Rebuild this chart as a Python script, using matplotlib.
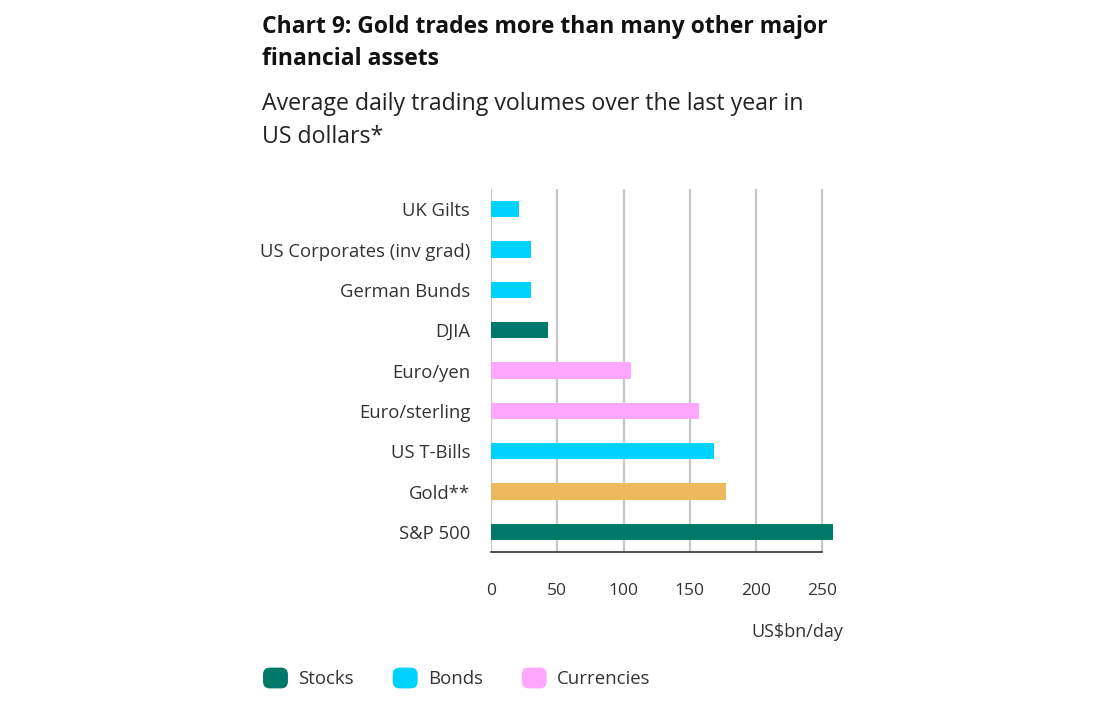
import matplotlib.pyplot as plt
from matplotlib.patches import Patch, FancyBboxPatch
from matplotlib.legend_handler import HandlerPatch

# Data (US$bn/day)
categories = ['S&P 500', 'Gold**', 'US T-Bills', 'Euro/sterling', 'Euro/yen',
              'DJIA', 'German Bunds', 'US Corporates (inv grad)', 'UK Gilts']
values = [258, 177, 168, 157, 106, 43, 30, 30, 21]
groups = ['Stocks', 'Gold', 'Bonds', 'Currencies', 'Currencies',
          'Stocks', 'Bonds', 'Bonds', 'Bonds']

group_colors = {
    'Stocks': '#00786a',
    'Bonds': '#00d2ff',
    'Currencies': '#ffa6ff',
    'Gold': '#eeb95c',
}
legend_groups = ['Stocks', 'Bonds', 'Currencies']

plt.rcParams['font.family'] = ['Open Sans', 'DejaVu Sans']


class RoundedHandler(HandlerPatch):
    def create_artists(self, legend, orig_handle, xdescent, ydescent,
                       width, height, fontsize, trans):
        p = FancyBboxPatch((-xdescent, -ydescent), width, height,
                           boxstyle='round,pad=0,rounding_size=5',
                           facecolor=orig_handle.get_facecolor(),
                           edgecolor='none', transform=trans)
        return [p]


fig = plt.figure(figsize=(11, 7.08), dpi=100)
ax = fig.add_axes([0.4464, 0.2203, 0.3131, 0.5127])

colors = [group_colors[g] for g in groups]
ax.barh(range(len(categories)), values, height=0.4, color=colors, zorder=3)

ax.set_xlim(0, 260)
ax.set_ylim(-0.5, len(categories) - 0.5)
ax.set_xticks([0, 50, 100, 150, 200, 250])
ax.set_yticks(range(len(categories)))
ax.set_yticklabels(categories)

ax.grid(axis='x', color='#c6c6c6', linewidth=1.6, zorder=0)
ax.tick_params(axis='both', length=0, colors='#333333')
ax.tick_params(axis='x', pad=22, labelsize=12.5)
ax.tick_params(axis='y', pad=15, labelsize=13.3)

for side in ['top', 'right', 'left']:
    ax.spines[side].set_visible(False)
ax.spines['bottom'].set_bounds(0, 250)
ax.spines['bottom'].set_color('#333333')
ax.spines['bottom'].set_linewidth(1.2)

# Titles
fig.text(262 / 1100, 1 - 15 / 708, 'Chart 9: Gold trades more than many other major\nfinancial assets',
         fontsize=16.5, fontweight='bold', color='#111111', va='top', ha='left',
         linespacing=1.43)
fig.text(262 / 1100, 1 - 92 / 708, 'Average daily trading volumes over the last year in\nUS dollars*',
         fontsize=16.7, color='#222222', va='top', ha='left', linespacing=1.48)

fig.text(843 / 1100, 1 - 632 / 708, 'US$bn/day', fontsize=13, color='#333333',
         ha='right', va='center')

handles = [Patch(facecolor=group_colors[g], label=g) for g in legend_groups]
fig.legend(handles=handles, handler_map={Patch: RoundedHandler()},
           loc='center left', bbox_to_anchor=(263 / 1100, 1 - 678 / 708),
           ncol=3, frameon=False, fontsize=13.4, handlelength=1.34, handleheight=1.34,
           handletextpad=0.54, columnspacing=2.1, borderpad=0, borderaxespad=0,
           labelcolor='#333333')

fig.savefig('out.png', dpi=100)
